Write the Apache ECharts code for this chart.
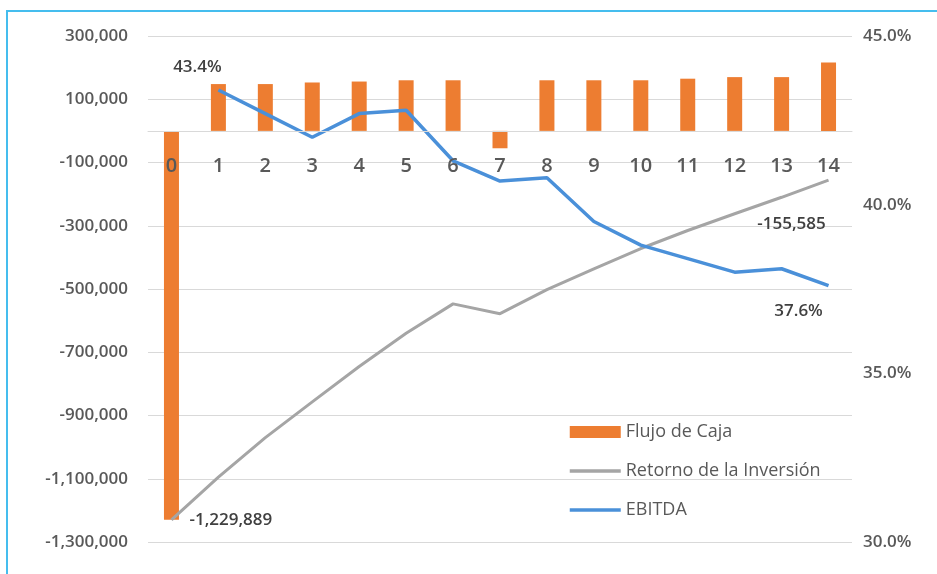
<!DOCTYPE html>
<html>
<head>
<meta charset="utf-8">
<script src="https://cdn.jsdelivr.net/npm/echarts@6/dist/echarts.min.js"></script>
<style>
html,body{margin:0;padding:0;background:#fff;overflow:hidden;}
#wrap{position:relative;width:937px;height:574px;overflow:hidden;background:#fff;}
#frame{position:absolute;left:6px;top:10px;width:1000px;height:1000px;border:2px solid #45BDEE;box-sizing:border-box;pointer-events:none;}
#chart{position:absolute;left:0;top:0;width:937px;height:574px;}
</style>
</head>
<body>
<div id="wrap"><div id="frame"></div><div id="chart"></div></div>
<script>
const categories = ['0','1','2','3','4','5','6','7','8','9','10','11','12','13','14'];
const flujoDeCaja = [-1229889, 148000, 148000, 153000, 156000, 160000, 160000, -55000, 160000, 160000, 160000, 165000, 170000, 170000, 216000];
const retornoInversion = [-1229889, -1095000, -970000, -857000, -745000, -640000, -547000, -578000, -502000, -436000, -372000, -315000, -262000, -210000, -155585];
const ebitda = [null, 43.4, 42.7, 42.0, 42.7, 42.8, 41.3, 40.7, 40.8, 39.5, 38.8, 38.4, 38.0, 38.1, 37.6];
const leftTicks = { min: -1300000, max: 300000, interval: 200000 };
const rightTicks = { min: 30, max: 45, interval: 5 };

const FONT = '"Open Sans", "Noto Sans", sans-serif';
const txt = '#595959';
const lbl = '#404040';
const lastIdx = categories.length - 1;

const W = 937, H = 574;
const G = { left: 148, right: 85, top: 36, bottom: 32 };
const plotH = H - G.top - G.bottom;
// move the category axis up to the zero value of the left axis
const zeroOffset = -plotH * (0 - leftTicks.min) / (leftTicks.max - leftTicks.min);

const labelBase = { show: true, fontSize: 17, fontWeight: 600, color: lbl, fontFamily: FONT };
const fmtNum = (p) => Number(p.value).toLocaleString('en-US');
const fmtPct = (p) => Number(p.value).toFixed(1) + '%';

const chart = echarts.init(document.getElementById('chart'), null, { renderer: 'canvas', width: W, height: H });
chart.setOption({
  animation: false,
  backgroundColor: 'transparent',
  textStyle: { fontFamily: FONT },
  grid: { left: G.left, right: G.right, top: G.top, bottom: G.bottom, containLabel: false, outerBoundsMode: 'none' },
  legend: {
    orient: 'vertical',
    left: 563,
    top: 417,
    itemWidth: 51,
    itemHeight: 12,
    itemGap: 19,
    data: [
      { name: 'Flujo de Caja', icon: 'rect' },
      { name: 'Retorno de la Inversión', itemStyle: { opacity: 0 }, lineStyle: { width: 3.5 } },
      { name: 'EBITDA', itemStyle: { opacity: 0 }, lineStyle: { width: 3.5 } }
    ],
    textStyle: { fontFamily: FONT, fontSize: 18, color: txt, lineHeight: 20 }
  },
  xAxis: {
    type: 'category',
    data: categories,
    position: 'bottom',
    offset: zeroOffset,
    z: 10,
    axisLine: { onZero: false, lineStyle: { color: '#d9d9d9', width: 1 } },
    axisTick: { show: false },
    axisLabel: { margin: 25, fontSize: 20, fontWeight: 600, color: txt, fontFamily: FONT },
    splitLine: { show: false }
  },
  yAxis: [
    {
      type: 'value',
      min: leftTicks.min, max: leftTicks.max, interval: leftTicks.interval,
      axisLine: { show: false }, axisTick: { show: false },
      axisLabel: { margin: 20, fontSize: 17, fontWeight: 600, color: txt, fontFamily: FONT,
        formatter: (v) => v.toLocaleString('en-US') },
      splitLine: { show: true, lineStyle: { color: '#d9d9d9', width: 1 } }
    },
    {
      type: 'value',
      min: rightTicks.min, max: rightTicks.max, interval: rightTicks.interval,
      axisLine: { show: false }, axisTick: { show: false },
      axisLabel: { margin: 11, fontSize: 17, fontWeight: 600, color: txt, fontFamily: FONT,
        formatter: (v) => v.toFixed(1) + '%' },
      splitLine: { show: false }
    }
  ],
  series: [
    {
      name: 'Flujo de Caja',
      type: 'bar',
      data: flujoDeCaja,
      barWidth: 15,
      itemStyle: { color: '#ED7D31' },
      z: 2
    },
    {
      name: 'Retorno de la Inversión',
      type: 'line',
      data: retornoInversion,
      symbol: 'none',
      lineStyle: { color: '#A5A5A5', width: 3 },
      itemStyle: { color: '#A5A5A5' },
      markPoint: {
        symbol: 'circle',
        symbolSize: 0,
        silent: true,
        data: [
          { coord: [categories[0], retornoInversion[0]], value: retornoInversion[0],
            label: Object.assign({}, labelBase, { position: 'right', distance: 18, formatter: fmtNum }) },
          { coord: [categories[lastIdx], retornoInversion[lastIdx]], value: retornoInversion[lastIdx],
            label: Object.assign({}, labelBase, { position: 'bottom', offset: [-37, 31], formatter: fmtNum }) }
        ]
      },
      z: 3
    },
    {
      name: 'EBITDA',
      type: 'line',
      yAxisIndex: 1,
      data: ebitda,
      symbol: 'none',
      lineStyle: { color: '#4A90D9', width: 3.5 },
      itemStyle: { color: '#4A90D9' },
      markPoint: {
        symbol: 'circle',
        symbolSize: 0,
        silent: true,
        data: [
          { coord: [categories[1], ebitda[1]], value: ebitda[1],
            label: Object.assign({}, labelBase, { position: 'top', offset: [-21, -9], formatter: fmtPct }) },
          { coord: [categories[lastIdx], ebitda[lastIdx]], value: ebitda[lastIdx],
            label: Object.assign({}, labelBase, { position: 'bottom', offset: [-30, 12], formatter: fmtPct }) }
        ]
      },
      z: 4
    }
  ]
});
</script>
</body>
</html>
